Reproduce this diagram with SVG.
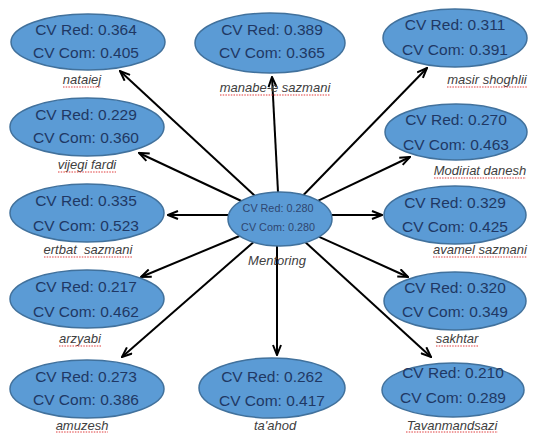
<svg xmlns="http://www.w3.org/2000/svg" width="534" height="433" viewBox="0 0 534 433">
<defs>
<style>
.n{fill:#5b9bd5;stroke:#41719c;stroke-width:1.5}
.v{font-family:"Liberation Sans",Arial,sans-serif;font-size:15.5px;fill:#1f3864;text-anchor:middle}
.vm{font-family:"Liberation Sans",Arial,sans-serif;font-size:10.8px;fill:#2f4670;text-anchor:middle}
.l{font-family:"Liberation Sans",Arial,sans-serif;font-size:13px;font-style:italic;fill:#404040;text-anchor:middle;white-space:pre}
.sq{stroke:#e03c3c;stroke-width:1.2;stroke-dasharray:1.5 1.2;fill:none}
.c{stroke:#000;stroke-width:2;fill:none;marker-end:url(#ah)}
</style>
<marker id="ah" viewBox="0 0 12 10" refX="11" refY="5" markerWidth="6" markerHeight="5" orient="auto" markerUnits="strokeWidth">
<path d="M1,1 L11,5 L1,9" fill="none" stroke="#000" stroke-width="2" stroke-linejoin="miter"/>
</marker>
</defs>
<rect width="534" height="433" fill="#fff"/>
<g id="connectors">
<line class="c" x1="254.5" y1="195.5" x2="120" y2="71"/>
<line class="c" x1="278" y1="192" x2="272" y2="77"/>
<line class="c" x1="303.5" y1="195" x2="427" y2="68"/>
<line class="c" x1="241.4" y1="201" x2="139" y2="153"/>
<line class="c" x1="318.3" y1="200.7" x2="410" y2="157"/>
<line class="c" x1="228" y1="215" x2="168" y2="215"/>
<line class="c" x1="332" y1="215" x2="382" y2="215"/>
<line class="c" x1="239.5" y1="236" x2="141" y2="277"/>
<line class="c" x1="319.2" y1="236.8" x2="408" y2="277"/>
<line class="c" x1="253.4" y1="242.2" x2="122" y2="357"/>
<line class="c" x1="277" y1="246" x2="277" y2="355"/>
<line class="c" x1="305.7" y1="242.5" x2="431" y2="357"/>
</g>
<g id="mentoring">
<ellipse class="n" cx="280" cy="219" rx="52" ry="27"/>
<text class="vm" x="278" y="212">CV Red: 0.280</text>
<text class="vm" x="278" y="231">CV Com: 0.280</text>
<text class="l" x="277" y="265" fill="#595959">Mentoring</text>
</g>
<g id="nataiej">
<ellipse class="n" cx="88" cy="42" rx="77" ry="28"/>
<text class="v" x="86" y="35">CV Red: 0.364</text>
<text class="v" x="86" y="58">CV Com: 0.405</text>
<text class="l" x="82" y="84">nataiej</text>
<line class="sq" x1="63" y1="87" x2="101" y2="87"/>
</g>
<g id="manabe">
<ellipse class="n" cx="270" cy="43" rx="75" ry="30"/>
<text class="v" x="272" y="35">CV Red: 0.389</text>
<text class="v" x="272" y="58">CV Com: 0.365</text>
<text class="l" x="275" y="92">manabe-e sazmani</text>
<line class="sq" x1="220" y1="95" x2="330" y2="95"/>
</g>
<g id="masir">
<ellipse class="n" cx="455" cy="38" rx="72" ry="29"/>
<text class="v" x="455" y="30">CV Red: 0.311</text>
<text class="v" x="455" y="55">CV Com: 0.391</text>
<text class="l" x="487" y="84">masir shoghlii</text>
<line class="sq" x1="447" y1="87" x2="527" y2="87"/>
</g>
<g id="vijegi">
<ellipse class="n" cx="87" cy="127" rx="77" ry="29"/>
<text class="v" x="86" y="120">CV Red: 0.229</text>
<text class="v" x="86" y="143">CV Com: 0.360</text>
<text class="l" x="87" y="169">vijegi fardi</text>
<line class="sq" x1="58" y1="172" x2="116" y2="172"/>
</g>
<g id="modiriat">
<ellipse class="n" cx="456" cy="132" rx="71" ry="28"/>
<text class="v" x="456" y="125">CV Red: 0.270</text>
<text class="v" x="456" y="150">CV Com: 0.463</text>
<text class="l" x="480" y="175">Modiriat danesh</text>
<line class="sq" x1="434" y1="178" x2="526" y2="178"/>
</g>
<g id="ertbat">
<ellipse class="n" cx="87" cy="213" rx="77" ry="29"/>
<text class="v" x="86" y="206">CV Red: 0.335</text>
<text class="v" x="86" y="231">CV Com: 0.523</text>
<text class="l" x="88" y="254" xml:space="preserve">ertbat  sazmani</text>
<line class="sq" x1="44" y1="257" x2="133" y2="257"/>
</g>
<g id="avamel">
<ellipse class="n" cx="455" cy="215" rx="71" ry="29"/>
<text class="v" x="455" y="208">CV Red: 0.329</text>
<text class="v" x="455" y="232">CV Com: 0.425</text>
<text class="l" x="480" y="254">avamel sazmani</text>
<line class="sq" x1="433" y1="257" x2="527" y2="257"/>
</g>
<g id="arzyabi">
<ellipse class="n" cx="87" cy="299" rx="77" ry="29"/>
<text class="v" x="86" y="292">CV Red: 0.217</text>
<text class="v" x="86" y="317">CV Com: 0.462</text>
<text class="l" x="80" y="343">arzyabi</text>
<line class="sq" x1="59" y1="346" x2="101" y2="346"/>
</g>
<g id="sakhtar">
<ellipse class="n" cx="455" cy="301" rx="71" ry="29"/>
<text class="v" x="455" y="293">CV Red: 0.320</text>
<text class="v" x="455" y="317">CV Com: 0.349</text>
<text class="l" x="457" y="343">sakhtar</text>
<line class="sq" x1="436" y1="346" x2="478" y2="346"/>
</g>
<g id="amuzesh">
<ellipse class="n" cx="87" cy="389" rx="77" ry="29"/>
<text class="v" x="86" y="382">CV Red: 0.273</text>
<text class="v" x="86" y="405">CV Com: 0.386</text>
<text class="l" x="82" y="430">amuzesh</text>
<line class="sq" x1="56" y1="432" x2="108" y2="432"/>
</g>
<g id="taahod">
<ellipse class="n" cx="272" cy="388" rx="73" ry="30"/>
<text class="v" x="272" y="382">CV Red: 0.262</text>
<text class="v" x="272" y="406">CV Com: 0.417</text>
<text class="l" x="275" y="430">ta'ahod</text>
</g>
<g id="tavanmandsazi">
<ellipse class="n" cx="453" cy="390" rx="71" ry="27"/>
<text class="v" x="453" y="378">CV Red: 0.210</text>
<text class="v" x="453" y="403">CV Com: 0.289</text>
<text class="l" x="452" y="430">Tavanmandsazi</text>
<line class="sq" x1="406" y1="432" x2="498" y2="432"/>
</g>
</svg>
